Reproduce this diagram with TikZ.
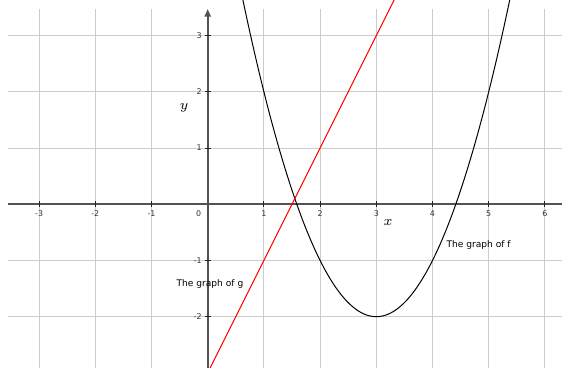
\documentclass[tikz,border=0pt]{standalone}
\usepackage{fontspec}
\newfontfamily\graphfont{DejaVu Sans}
\usetikzlibrary{arrows.meta}
\tikzset{
 gridline/.style={draw=black!20,line width=.45pt},
 axis/.style={draw=black!68,line width=1pt},
 tickmark/.style={draw=black!85,line width=.55pt},
 ticklabel/.style={font={\fontsize{4}{5}\graphfont},text=black!80,inner sep=0},
 graphlabel/.style={font={\fontsize{4.6}{5.5}\graphfont},inner sep=0},
 axislabel/.style={font=\fontsize{7}{8}\selectfont,inner sep=0},
 curvef/.style={line width=.5pt,black},
 curveg/.style={line width=.5pt,red}
}
\begin{document}
\begin{tikzpicture}[x=1cm,y=1cm]
\path[use as bounding box] (-3.696,-2.913) rectangle (6.340,3.635);
% grid
\foreach \i in {-3,...,6} \draw[gridline] (\i,-2.913) -- (\i,3.47);
\foreach \j in {-2,...,3} \draw[gridline] (-3.55,\j) -- (6.30,\j);
% axes
\draw[axis] (-3.55,0) -- (6.30,0);
\draw[axis,-{Triangle[length=1.3mm,width=1.1mm]}] (0,-2.913) -- (0,3.47);
\foreach \i in {-3,-2,-1,1,2,3,4,5,6}{
 \draw[tickmark] (\i,-.05) -- (\i,.05);
 \node[ticklabel] (xl\i) at (\i,-.16) {\i};
}
\foreach \j in {-2,-1,1,2,3}{
 \draw[tickmark] (-.05,\j) -- (.05,\j);
 \node[ticklabel,anchor=east] (yl\j) at (-.1,\j) {\j};
}
\node[ticklabel] (ol) at (-.16,-.17) {0};
\node[axislabel] (xname) at (3.21,-.33) {$x$};
\node[axislabel] (yname) at (-.42,1.71) {$y$};
% graphs
\begin{scope}
\clip (-3.696,-2.913) rectangle (6.340,3.635);
\draw[curvef] plot[domain=0.6:5.4,samples=100,smooth] (\x,{(\x-3)^2-2});
\coordinate (gstart) at (-.05,-3.1);
\coordinate (gend) at (3.4,3.8);
\draw[curveg] (gstart) -- (gend);
\end{scope}
\node[graphlabel] (labelf) at (4.82,-.72) {The graph of f};
\node[graphlabel] (labelg) at (.04,-1.42) {The graph of g};
\end{tikzpicture}
\end{document}
